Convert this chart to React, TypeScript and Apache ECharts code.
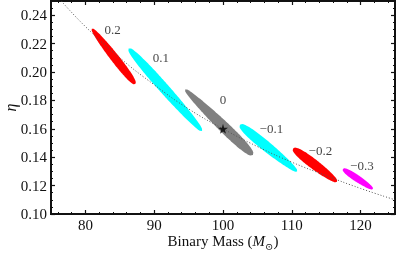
import React, { useEffect, useRef } from "react";
import * as echarts from "echarts";

// ---- data ----
const xMajorTicks = [80, 90, 100, 110, 120];
const xMinorTicks = [76, 78, 82, 84, 86, 88, 92, 94, 96, 98, 102, 104, 106, 108, 112, 114, 116, 118, 122, 124];
const yMajorTicks = [0.1, 0.12, 0.14, 0.16, 0.18, 0.2, 0.22, 0.24];
const yMinorTicks = [
  0.105, 0.11, 0.115, 0.125, 0.13, 0.135, 0.145, 0.15, 0.155, 0.165, 0.17, 0.175,
  0.185, 0.19, 0.195, 0.205, 0.21, 0.215, 0.225, 0.23, 0.235, 0.245,
];

const blobLabels = ["0.2", "0.1", "0", "\u22120.1", "\u22120.2", "\u22120.3"];
const blobStartX = [80.94, 86.28, 94.49, 102.46, 110.19, 117.43];
const blobStartY = [0.2305, 0.2166, 0.1877, 0.1628, 0.1462, 0.1317];
const blobEndX = [87.25, 96.96, 104.35, 110.77, 116.57, 121.78];
const blobEndY = [0.1915, 0.1584, 0.1415, 0.13, 0.1227, 0.1176];
const labelX = [83.96, 90.97, 100.0, 107.03, 114.16, 120.19];
const labelY = [0.2302, 0.2102, 0.1807, 0.1603, 0.145, 0.1345];

const curveMass = [76.5, 80, 85, 90, 95, 100, 105, 110, 115, 120, 125];
const curveEta = [0.25, 0.232, 0.21, 0.191, 0.174, 0.16, 0.1475, 0.1365, 0.127, 0.118, 0.11];

const starMass = [100];
const starEta = [0.16];

// ---- styles ----
const blobColors = ["#ff0000", "#00ffff", "#808080", "#00ffff", "#ff0000", "#ff00ff"];
const blobHalfWidths = [
  [3.6, 4.8],
  [5.4, 4.6],
  [4.0, 6.6],
  [6.0, 4.0],
  [5.4, 4.2],
  [3.8, 2.9],
];
const FONT = "'Liberation Serif', 'DejaVu Serif', serif";
const STAR =
  "path://M50,0 L61,35 L98,35 L68,57 L79,91 L50,70 L21,91 L32,57 L2,35 L39,35 Z";

export default function App() {
  const ref = useRef<HTMLDivElement>(null);
  useEffect(() => {
    if (!ref.current) return;
    const chart = echarts.init(ref.current, undefined, { renderer: "svg" });

    const xBase = { type: "value", min: 75, max: 125, gridIndex: 0 };
    const yBase = { type: "value", min: 0.1, max: 0.25, gridIndex: 0 };
    const hidden = { show: false };
    const majorTickStyle = { color: "#111", width: 1.2 };
    const minorTickStyle = { color: "#111", width: 1 };

    const option: any = {
      animation: false,
      grid: {
        left: 51,
        right: 4,
        top: 1,
        bottom: 41,
        containLabel: false,
        outerBoundsMode: "none",
        show: true,
        borderColor: "#111",
        borderWidth: 2,
        backgroundColor: "transparent",
      },
      xAxis: [
        {
          ...xBase,
          position: "bottom",
          axisLine: hidden,
          splitLine: hidden,
          axisTick: { show: true, inside: true, length: 4, customValues: xMajorTicks, lineStyle: majorTickStyle },
          axisLabel: {
            show: true,
            customValues: xMajorTicks,
            margin: 3,
            color: "#111",
            fontFamily: FONT,
            fontSize: 15,
          },
          name: "{n|Binary Mass (}{i|M}{s|\u2299}{n|)}",
          nameLocation: "middle",
          nameMoveOverlap: false,
          nameGap: 17,
          nameTextStyle: {
            rich: {
              n: { fontFamily: FONT, fontSize: 15, color: "#111", lineHeight: 20, verticalAlign: "middle" },
              i: { fontFamily: FONT, fontSize: 15, fontStyle: "italic", color: "#111", lineHeight: 20, verticalAlign: "middle" },
              s: { fontFamily: FONT, fontSize: 10, color: "#111", lineHeight: 10, verticalAlign: "bottom" },
            },
          },
        },
        {
          ...xBase,
          position: "bottom",
          axisLine: hidden,
          splitLine: hidden,
          axisLabel: hidden,
          axisTick: { show: true, inside: true, length: 2, customValues: xMinorTicks, lineStyle: minorTickStyle },
        },
        {
          ...xBase,
          position: "top",
          axisLine: hidden,
          splitLine: hidden,
          axisLabel: hidden,
          axisTick: { show: true, inside: true, length: 4, customValues: xMajorTicks, lineStyle: majorTickStyle },
        },
        {
          ...xBase,
          position: "top",
          axisLine: hidden,
          splitLine: hidden,
          axisLabel: hidden,
          axisTick: { show: true, inside: true, length: 2, customValues: xMinorTicks, lineStyle: minorTickStyle },
        },
      ],
      yAxis: [
        {
          ...yBase,
          position: "left",
          axisLine: hidden,
          splitLine: hidden,
          axisTick: { show: true, inside: true, length: 4, customValues: yMajorTicks, lineStyle: majorTickStyle },
          axisLabel: {
            show: true,
            customValues: yMajorTicks,
            margin: 4,
            color: "#111",
            fontFamily: FONT,
            fontSize: 15,
            formatter: (v: number) => v.toFixed(2),
          },
          name: "\u03b7",
          nameLocation: "middle",
          nameMoveOverlap: false,
          nameRotate: 90,
          nameGap: 33,
          nameTextStyle: { fontFamily: FONT, fontSize: 16, fontStyle: "italic", color: "#111" },
        },
        {
          ...yBase,
          position: "left",
          axisLine: hidden,
          splitLine: hidden,
          axisLabel: hidden,
          axisTick: { show: true, inside: true, length: 2, customValues: yMinorTicks, lineStyle: minorTickStyle },
        },
        {
          ...yBase,
          position: "right",
          axisLine: hidden,
          splitLine: hidden,
          axisLabel: hidden,
          axisTick: { show: true, inside: true, length: 4, customValues: yMajorTicks, lineStyle: majorTickStyle },
        },
        {
          ...yBase,
          position: "right",
          axisLine: hidden,
          splitLine: hidden,
          axisLabel: hidden,
          axisTick: { show: true, inside: true, length: 2, customValues: yMinorTicks, lineStyle: minorTickStyle },
        },
      ],
      series: [
        {
          type: "custom",
          xAxisIndex: 0,
          yAxisIndex: 0,
          z: 2,
          encode: { x: [0, 2], y: [1, 3] },
          data: blobStartX.map((x, i) => [x, blobStartY[i], blobEndX[i], blobEndY[i], i]),
          renderItem: (params: any, api: any) => {
            const i = api.value(4);
            const p1 = api.coord([api.value(0), api.value(1)]);
            const p2 = api.coord([api.value(2), api.value(3)]);
            const dx = p2[0] - p1[0];
            const dy = p2[1] - p1[1];
            const len = Math.hypot(dx, dy) || 1;
            const nx = -dy / len;
            const ny = dx / len;
            const [wa, wb] = blobHalfWidths[i];
            const N = 60;
            const top: number[][] = [];
            const bot: number[][] = [];
            for (let k = 0; k <= N; k++) {
              const t = k / N;
              const env = Math.pow(Math.max(0, 1 - (2 * t - 1) * (2 * t - 1)), 0.4);
              const w = (wa * (1 - t) + wb * t) * env;
              const cx = p1[0] + dx * t;
              const cy = p1[1] + dy * t;
              top.push([cx + nx * w, cy + ny * w]);
              bot.push([cx - nx * w, cy - ny * w]);
            }
            return {
              type: "polygon",
              shape: { points: top.concat(bot.reverse()) },
              style: { fill: blobColors[i] },
            };
          },
        },
        {
          type: "line",
          xAxisIndex: 0,
          yAxisIndex: 0,
          z: 3,
          smooth: true,
          symbol: "none",
          data: curveMass.map((m, i) => [m, curveEta[i]]),
          lineStyle: { color: "#555", width: 1, type: [1, 2] },
        },
        {
          type: "scatter",
          xAxisIndex: 0,
          yAxisIndex: 0,
          z: 4,
          symbol: STAR,
          symbolSize: 10,
          itemStyle: { color: "#000" },
          data: starMass.map((m, i) => [m, starEta[i]]),
        },
        {
          type: "scatter",
          xAxisIndex: 0,
          yAxisIndex: 0,
          z: 5,
          symbolSize: 1,
          itemStyle: { color: "rgba(0,0,0,0)" },
          data: labelX.map((x, i) => ({ value: [x, labelY[i]], name: blobLabels[i] })),
          label: {
            show: true,
            position: "inside",
            formatter: "{b}",
            color: "#111",
            fontFamily: FONT,
            fontSize: 13,
          },
        },
      ],
    };
    chart.setOption(option);
    return () => chart.dispose();
  }, []);
  return (
    <div
      ref={ref}
      style={{ position: "fixed", left: 0, top: 0, width: 399, height: 255 }}
    />
  );
}
